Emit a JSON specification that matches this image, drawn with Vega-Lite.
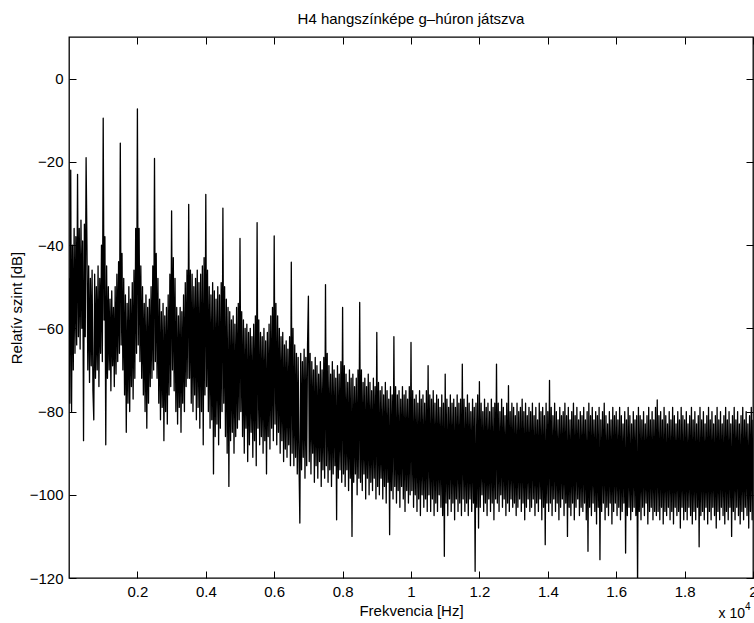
{
"$schema":"https://vega.github.io/schema/vega-lite/v6.json",
"width":684,"height":541,
"autosize":{"type":"none"},
"padding":{"left":69,"top":37,"right":1,"bottom":45},
"background":"white",
"title":{"text":"H4 hangszínképe g–húron játszva","font":"Liberation Sans","fontSize":15,"fontWeight":"normal","color":"black","offset":10,"anchor":"middle"},
"config":{
"view":{"stroke":"black","strokeWidth":1.3},
"axis":{"domain":false,"grid":false,"tickColor":"black","tickSize":-7,"tickWidth":1,"labelFont":"Liberation Sans","labelFontSize":15,"labelColor":"black","titleFont":"Liberation Sans","titleFontSize":15,"titleFontWeight":"normal","titleColor":"black"}
},
"datasets":{"spec":[
{"f":0,"d":-48},{"f":25,"d":-78},{"f":50,"d":-22},{"f":75,"d":-80},{"f":100,"d":-40},{"f":125,"d":-70},{"f":150,"d":-36},{"f":175,"d":-66},{"f":200,"d":-38},{"f":225,"d":-64},{"f":250,"d":-23},{"f":275,"d":-62},{"f":300,"d":-36},{"f":325,"d":-65},{"f":350,"d":-34},{"f":375,"d":-60},{"f":400,"d":-39},{"f":425,"d":-87},{"f":450,"d":-35},{"f":475,"d":-62},
{"f":500,"d":-19},{"f":525,"d":-40},{"f":550,"d":-70},{"f":575,"d":-45},{"f":600,"d":-73},{"f":625,"d":-48},{"f":650,"d":-69},{"f":675,"d":-46},{"f":700,"d":-75},{"f":725,"d":-82},{"f":750,"d":-47},{"f":775,"d":-72},{"f":800,"d":-50},{"f":825,"d":-70},{"f":850,"d":-45},{"f":875,"d":-74},{"f":900,"d":-48},{"f":925,"d":-66},{"f":950,"d":-40},{"f":975,"d":-68},
{"f":1000,"d":-9.5},{"f":1025,"d":-58},{"f":1050,"d":-38},{"f":1075,"d":-88},{"f":1100,"d":-45},{"f":1125,"d":-72},{"f":1150,"d":-50},{"f":1175,"d":-70},{"f":1200,"d":-53},{"f":1225,"d":-75},{"f":1250,"d":-51},{"f":1275,"d":-69},{"f":1300,"d":-55},{"f":1325,"d":-74},{"f":1350,"d":-50},{"f":1375,"d":-71},{"f":1400,"d":-47},{"f":1425,"d":-68},{"f":1450,"d":-44},{"f":1475,"d":-66},
{"f":1500,"d":-15.5},{"f":1525,"d":-64},{"f":1550,"d":-42},{"f":1575,"d":-70},{"f":1600,"d":-48},{"f":1625,"d":-76},{"f":1650,"d":-52},{"f":1675,"d":-85},{"f":1700,"d":-54},{"f":1725,"d":-78},{"f":1750,"d":-50},{"f":1775,"d":-80},{"f":1800,"d":-53},{"f":1825,"d":-74},{"f":1850,"d":-49},{"f":1875,"d":-77},{"f":1900,"d":-46},{"f":1925,"d":-72},{"f":1950,"d":-36},{"f":1975,"d":-66},
{"f":2000,"d":-7.3},{"f":2025,"d":-64},{"f":2050,"d":-36},{"f":2075,"d":-68},{"f":2100,"d":-45},{"f":2125,"d":-72},{"f":2150,"d":-50},{"f":2175,"d":-76},{"f":2200,"d":-54},{"f":2225,"d":-80},{"f":2250,"d":-52},{"f":2275,"d":-84},{"f":2300,"d":-55},{"f":2325,"d":-78},{"f":2350,"d":-53},{"f":2375,"d":-74},{"f":2400,"d":-50},{"f":2425,"d":-72},{"f":2450,"d":-45},{"f":2475,"d":-70},
{"f":2500,"d":-19.2},{"f":2525,"d":-68},{"f":2550,"d":-42},{"f":2575,"d":-72},{"f":2600,"d":-48},{"f":2625,"d":-78},{"f":2650,"d":-53},{"f":2675,"d":-82},{"f":2700,"d":-56},{"f":2725,"d":-79},{"f":2750,"d":-54},{"f":2775,"d":-87},{"f":2800,"d":-57},{"f":2825,"d":-80},{"f":2850,"d":-55},{"f":2875,"d":-83},{"f":2900,"d":-52},{"f":2925,"d":-76},{"f":2950,"d":-47},{"f":2975,"d":-74},
{"f":3000,"d":-31.8},{"f":3025,"d":-70},{"f":3050,"d":-43},{"f":3075,"d":-75},{"f":3100,"d":-48},{"f":3125,"d":-80},{"f":3150,"d":-55},{"f":3175,"d":-83},{"f":3200,"d":-57},{"f":3225,"d":-79},{"f":3250,"d":-55},{"f":3275,"d":-85},{"f":3300,"d":-56},{"f":3325,"d":-78},{"f":3350,"d":-52},{"f":3375,"d":-80},{"f":3400,"d":-49},{"f":3425,"d":-74},{"f":3450,"d":-46},{"f":3475,"d":-72},
{"f":3500,"d":-30.2},{"f":3525,"d":-72},{"f":3550,"d":-46},{"f":3575,"d":-78},{"f":3600,"d":-47},{"f":3625,"d":-80},{"f":3650,"d":-50},{"f":3675,"d":-76},{"f":3700,"d":-48},{"f":3725,"d":-82},{"f":3750,"d":-46},{"f":3775,"d":-79},{"f":3800,"d":-49},{"f":3825,"d":-84},{"f":3850,"d":-47},{"f":3875,"d":-80},{"f":3900,"d":-45},{"f":3925,"d":-88},{"f":3950,"d":-43},{"f":3975,"d":-76},
{"f":4000,"d":-27.8},{"f":4025,"d":-74},{"f":4050,"d":-46},{"f":4075,"d":-80},{"f":4100,"d":-50},{"f":4125,"d":-84},{"f":4150,"d":-52},{"f":4175,"d":-82},{"f":4200,"d":-49},{"f":4225,"d":-95},{"f":4250,"d":-51},{"f":4275,"d":-86},{"f":4300,"d":-53},{"f":4325,"d":-83},{"f":4350,"d":-50},{"f":4375,"d":-88},{"f":4400,"d":-52},{"f":4425,"d":-84},{"f":4450,"d":-49},{"f":4475,"d":-80},
{"f":4500,"d":-31.1},{"f":4525,"d":-78},{"f":4550,"d":-50},{"f":4575,"d":-86},{"f":4600,"d":-53},{"f":4625,"d":-90},{"f":4650,"d":-55},{"f":4675,"d":-98},{"f":4700,"d":-56},{"f":4725,"d":-87},{"f":4750,"d":-58},{"f":4775,"d":-85},{"f":4800,"d":-57},{"f":4825,"d":-90},{"f":4850,"d":-59},{"f":4875,"d":-86},{"f":4900,"d":-55},{"f":4925,"d":-84},{"f":4950,"d":-54},{"f":4975,"d":-82},
{"f":5000,"d":-38.4},{"f":5025,"d":-80},{"f":5050,"d":-56},{"f":5075,"d":-86},{"f":5100,"d":-58},{"f":5125,"d":-90},{"f":5150,"d":-60},{"f":5175,"d":-84},{"f":5200,"d":-59},{"f":5225,"d":-92},{"f":5250,"d":-61},{"f":5275,"d":-88},{"f":5300,"d":-60},{"f":5325,"d":-85},{"f":5350,"d":-62},{"f":5375,"d":-91},{"f":5400,"d":-59},{"f":5425,"d":-87},{"f":5450,"d":-57},{"f":5475,"d":-93},
{"f":5500,"d":-34.6},{"f":5525,"d":-84},{"f":5550,"d":-58},{"f":5575,"d":-88},{"f":5600,"d":-61},{"f":5625,"d":-86},{"f":5650,"d":-62},{"f":5675,"d":-90},{"f":5700,"d":-60},{"f":5725,"d":-87},{"f":5750,"d":-63},{"f":5775,"d":-95},{"f":5800,"d":-61},{"f":5825,"d":-86},{"f":5850,"d":-59},{"f":5875,"d":-89},{"f":5900,"d":-57},{"f":5925,"d":-84},{"f":5950,"d":-55},{"f":5975,"d":-87},
{"f":6000,"d":-37.8},{"f":6025,"d":-83},{"f":6050,"d":-54},{"f":6075,"d":-88},{"f":6100,"d":-57},{"f":6125,"d":-85},{"f":6150,"d":-60},{"f":6175,"d":-90},{"f":6200,"d":-62},{"f":6225,"d":-87},{"f":6250,"d":-61},{"f":6275,"d":-92},{"f":6300,"d":-64},{"f":6325,"d":-89},{"f":6350,"d":-63},{"f":6375,"d":-91},{"f":6400,"d":-65},{"f":6425,"d":-88},{"f":6450,"d":-62},{"f":6475,"d":-93},
{"f":6500,"d":-44.1},{"f":6525,"d":-90},{"f":6550,"d":-60},{"f":6575,"d":-93},{"f":6600,"d":-64},{"f":6625,"d":-91},{"f":6650,"d":-66},{"f":6675,"d":-95},{"f":6700,"d":-67},{"f":6725,"d":-92},{"f":6750,"d":-106.8},{"f":6775,"d":-66},{"f":6800,"d":-94},{"f":6825,"d":-68},{"f":6850,"d":-91},{"f":6875,"d":-65},{"f":6900,"d":-96},{"f":6925,"d":-67},{"f":6950,"d":-93},{"f":6975,"d":-64},
{"f":7000,"d":-52.3},{"f":7025,"d":-92},{"f":7050,"d":-66},{"f":7075,"d":-95},{"f":7100,"d":-68},{"f":7125,"d":-90},{"f":7150,"d":-70},{"f":7175,"d":-97},{"f":7200,"d":-67},{"f":7225,"d":-93},{"f":7250,"d":-69},{"f":7275,"d":-96},{"f":7300,"d":-71},{"f":7325,"d":-92},{"f":7350,"d":-68},{"f":7375,"d":-98},{"f":7400,"d":-70},{"f":7425,"d":-94},{"f":7450,"d":-67},{"f":7475,"d":-96},
{"f":7500,"d":-49.5},{"f":7525,"d":-93},{"f":7550,"d":-66},{"f":7575,"d":-97},{"f":7600,"d":-69},{"f":7625,"d":-94},{"f":7650,"d":-71},{"f":7675,"d":-98},{"f":7700,"d":-68},{"f":7725,"d":-95},{"f":7750,"d":-70},{"f":7775,"d":-93},{"f":7800,"d":-72},{"f":7825,"d":-106},{"f":7850,"d":-69},{"f":7875,"d":-96},{"f":7900,"d":-71},{"f":7925,"d":-94},{"f":7950,"d":-68},{"f":7975,"d":-97},
{"f":8000,"d":-55},{"f":8025,"d":-95},{"f":8050,"d":-69},{"f":8075,"d":-98},{"f":8100,"d":-71},{"f":8125,"d":-94},{"f":8150,"d":-73},{"f":8175,"d":-99},{"f":8200,"d":-70},{"f":8225,"d":-96},{"f":8250,"d":-72},{"f":8275,"d":-110},{"f":8300,"d":-71},{"f":8325,"d":-97},{"f":8350,"d":-74},{"f":8375,"d":-95},{"f":8400,"d":-72},{"f":8425,"d":-100},{"f":8450,"d":-70},{"f":8475,"d":-96},
{"f":8500,"d":-53.8},{"f":8525,"d":-97},{"f":8550,"d":-70},{"f":8575,"d":-99},{"f":8600,"d":-73},{"f":8625,"d":-95},{"f":8650,"d":-72},{"f":8675,"d":-101},{"f":8700,"d":-74},{"f":8725,"d":-96},{"f":8750,"d":-71},{"f":8775,"d":-100},{"f":8800,"d":-73},{"f":8825,"d":-97},{"f":8850,"d":-75},{"f":8875,"d":-99},{"f":8900,"d":-72},{"f":8925,"d":-96},{"f":8950,"d":-74},{"f":8975,"d":-101},
{"f":9000,"d":-61},{"f":9025,"d":-98},{"f":9050,"d":-73},{"f":9075,"d":-100},{"f":9100,"d":-75},{"f":9125,"d":-96},{"f":9150,"d":-74},{"f":9175,"d":-101},{"f":9200,"d":-76},{"f":9225,"d":-98},{"f":9250,"d":-73},{"f":9275,"d":-102},{"f":9300,"d":-75},{"f":9325,"d":-97},{"f":9350,"d":-77},{"f":9375,"d":-109.6},{"f":9400,"d":-74},{"f":9425,"d":-99},{"f":9450,"d":-76},{"f":9475,"d":-101},
{"f":9500,"d":-62},{"f":9525,"d":-98},{"f":9550,"d":-74},{"f":9575,"d":-102},{"f":9600,"d":-76},{"f":9625,"d":-99},{"f":9650,"d":-75},{"f":9675,"d":-103},{"f":9700,"d":-77},{"f":9725,"d":-98},{"f":9750,"d":-74},{"f":9775,"d":-101},{"f":9800,"d":-76},{"f":9825,"d":-104},{"f":9850,"d":-75},{"f":9875,"d":-99},{"f":9900,"d":-77},{"f":9925,"d":-102},{"f":9950,"d":-74},{"f":9975,"d":-100},
{"f":10000,"d":-63.4},{"f":10025,"d":-99},{"f":10050,"d":-75},{"f":10075,"d":-103},{"f":10100,"d":-77},{"f":10125,"d":-100},{"f":10150,"d":-76},{"f":10175,"d":-104},{"f":10200,"d":-78},{"f":10225,"d":-101},{"f":10250,"d":-75},{"f":10275,"d":-105},{"f":10300,"d":-77},{"f":10325,"d":-100},{"f":10350,"d":-76},{"f":10375,"d":-103},{"f":10400,"d":-78},{"f":10425,"d":-101},{"f":10450,"d":-75},{"f":10475,"d":-104},
{"f":10500,"d":-69},{"f":10525,"d":-100},{"f":10550,"d":-76},{"f":10575,"d":-104},{"f":10600,"d":-77},{"f":10625,"d":-101},{"f":10650,"d":-75},{"f":10675,"d":-105},{"f":10700,"d":-78},{"f":10725,"d":-102},{"f":10750,"d":-76},{"f":10775,"d":-104},{"f":10800,"d":-77},{"f":10825,"d":-100},{"f":10850,"d":-79},{"f":10875,"d":-103},{"f":10900,"d":-76},{"f":10925,"d":-105},{"f":10950,"d":-78},{"f":10975,"d":-114.8},
{"f":11000,"d":-71},{"f":11025,"d":-102},{"f":11050,"d":-77},{"f":11075,"d":-105},{"f":11100,"d":-79},{"f":11125,"d":-101},{"f":11150,"d":-76},{"f":11175,"d":-104},{"f":11200,"d":-78},{"f":11225,"d":-102},{"f":11250,"d":-77},{"f":11275,"d":-106},{"f":11300,"d":-79},{"f":11325,"d":-101},{"f":11350,"d":-76},{"f":11375,"d":-104},{"f":11400,"d":-78},{"f":11425,"d":-102},{"f":11450,"d":-77},{"f":11475,"d":-105},
{"f":11500,"d":-68.6},{"f":11525,"d":-101},{"f":11550,"d":-77},{"f":11575,"d":-104},{"f":11600,"d":-79},{"f":11625,"d":-102},{"f":11650,"d":-76},{"f":11675,"d":-105},{"f":11700,"d":-78},{"f":11725,"d":-101},{"f":11750,"d":-80},{"f":11775,"d":-104},{"f":11800,"d":-77},{"f":11825,"d":-102},{"f":11850,"d":-79},{"f":11875,"d":-118.4},{"f":11900,"d":-78},{"f":11925,"d":-103},{"f":11950,"d":-76},{"f":11975,"d":-108},
{"f":12000,"d":-72.8},{"f":12025,"d":-103},{"f":12050,"d":-78},{"f":12075,"d":-100},{"f":12100,"d":-80},{"f":12125,"d":-104},{"f":12150,"d":-77},{"f":12175,"d":-102},{"f":12200,"d":-79},{"f":12225,"d":-105},{"f":12250,"d":-78},{"f":12275,"d":-101},{"f":12300,"d":-80},{"f":12325,"d":-104},{"f":12350,"d":-77},{"f":12375,"d":-102},{"f":12400,"d":-79},{"f":12425,"d":-106},{"f":12450,"d":-78},{"f":12475,"d":-101},
{"f":12500,"d":-68.6},{"f":12525,"d":-102},{"f":12550,"d":-78},{"f":12575,"d":-104},{"f":12600,"d":-80},{"f":12625,"d":-100},{"f":12650,"d":-77},{"f":12675,"d":-103},{"f":12700,"d":-79},{"f":12725,"d":-101},{"f":12750,"d":-81},{"f":12775,"d":-105},{"f":12800,"d":-78},{"f":12825,"d":-102},{"f":12850,"d":-73.8},{"f":12875,"d":-104},{"f":12900,"d":-80},{"f":12925,"d":-101},{"f":12950,"d":-78},{"f":12975,"d":-103},
{"f":13000,"d":-79},{"f":13025,"d":-102},{"f":13050,"d":-81},{"f":13075,"d":-105},{"f":13100,"d":-78},{"f":13125,"d":-103},{"f":13150,"d":-80},{"f":13175,"d":-101},{"f":13200,"d":-79},{"f":13225,"d":-104},{"f":13250,"d":-77},{"f":13275,"d":-102},{"f":13300,"d":-80},{"f":13325,"d":-106},{"f":13350,"d":-78},{"f":13375,"d":-103},{"f":13400,"d":-81},{"f":13425,"d":-101},{"f":13450,"d":-79},{"f":13475,"d":-104},
{"f":13500,"d":-80},{"f":13525,"d":-103},{"f":13550,"d":-78},{"f":13575,"d":-101},{"f":13600,"d":-81},{"f":13625,"d":-105},{"f":13650,"d":-79},{"f":13675,"d":-102},{"f":13700,"d":-82},{"f":13725,"d":-104},{"f":13750,"d":-78},{"f":13775,"d":-101},{"f":13800,"d":-80},{"f":13825,"d":-106},{"f":13850,"d":-79},{"f":13875,"d":-103},{"f":13900,"d":-81},{"f":13925,"d":-112},{"f":13950,"d":-78},{"f":13975,"d":-102},
{"f":14000,"d":-80},{"f":14025,"d":-104},{"f":14050,"d":-72.5},{"f":14075,"d":-102},{"f":14100,"d":-79},{"f":14125,"d":-105},{"f":14150,"d":-81},{"f":14175,"d":-101},{"f":14200,"d":-78},{"f":14225,"d":-104},{"f":14250,"d":-80},{"f":14275,"d":-102},{"f":14300,"d":-82},{"f":14325,"d":-106},{"f":14350,"d":-79},{"f":14375,"d":-103},{"f":14400,"d":-81},{"f":14425,"d":-101},{"f":14450,"d":-80},{"f":14475,"d":-105},
{"f":14500,"d":-78},{"f":14525,"d":-102},{"f":14550,"d":-81},{"f":14575,"d":-110},{"f":14600,"d":-79},{"f":14625,"d":-103},{"f":14650,"d":-82},{"f":14675,"d":-105},{"f":14700,"d":-80},{"f":14725,"d":-102},{"f":14750,"d":-78},{"f":14775,"d":-106},{"f":14800,"d":-81},{"f":14825,"d":-103},{"f":14850,"d":-79},{"f":14875,"d":-101},{"f":14900,"d":-82},{"f":14925,"d":-105},{"f":14950,"d":-80},{"f":14975,"d":-103},
{"f":15000,"d":-81},{"f":15025,"d":-104},{"f":15050,"d":-79},{"f":15075,"d":-102},{"f":15100,"d":-82},{"f":15125,"d":-106},{"f":15150,"d":-80},{"f":15175,"d":-113.6},{"f":15200,"d":-78},{"f":15225,"d":-103},{"f":15250,"d":-81},{"f":15275,"d":-105},{"f":15300,"d":-79},{"f":15325,"d":-102},{"f":15350,"d":-82},{"f":15375,"d":-104},{"f":15400,"d":-80},{"f":15425,"d":-107},{"f":15450,"d":-81},{"f":15475,"d":-103},
{"f":15500,"d":-79},{"f":15525,"d":-115.6},{"f":15550,"d":-82},{"f":15575,"d":-104},{"f":15600,"d":-80},{"f":15625,"d":-102},{"f":15650,"d":-78},{"f":15675,"d":-106},{"f":15700,"d":-81},{"f":15725,"d":-103},{"f":15750,"d":-83},{"f":15775,"d":-105},{"f":15800,"d":-80},{"f":15825,"d":-102},{"f":15850,"d":-82},{"f":15875,"d":-107},{"f":15900,"d":-79},{"f":15925,"d":-104},{"f":15950,"d":-81},{"f":15975,"d":-102},
{"f":16000,"d":-80},{"f":16025,"d":-105},{"f":16050,"d":-82},{"f":16075,"d":-103},{"f":16100,"d":-79},{"f":16125,"d":-106},{"f":16150,"d":-81},{"f":16175,"d":-104},{"f":16200,"d":-83},{"f":16225,"d":-102},{"f":16250,"d":-80},{"f":16275,"d":-114},{"f":16300,"d":-82},{"f":16325,"d":-105},{"f":16350,"d":-79},{"f":16375,"d":-103},{"f":16400,"d":-81},{"f":16425,"d":-106},{"f":16450,"d":-83},{"f":16475,"d":-104},
{"f":16500,"d":-80},{"f":16525,"d":-103},{"f":16550,"d":-82},{"f":16575,"d":-105},{"f":16600,"d":-81},{"f":16625,"d":-122},{"f":16650,"d":-79},{"f":16675,"d":-104},{"f":16700,"d":-81},{"f":16725,"d":-106},{"f":16750,"d":-82},{"f":16775,"d":-103},{"f":16800,"d":-80},{"f":16825,"d":-105},{"f":16850,"d":-83},{"f":16875,"d":-102},{"f":16900,"d":-81},{"f":16925,"d":-107},{"f":16950,"d":-79},{"f":16975,"d":-104},
{"f":17000,"d":-82},{"f":17025,"d":-103},{"f":17050,"d":-80},{"f":17075,"d":-106},{"f":17100,"d":-82},{"f":17125,"d":-104},{"f":17150,"d":-79},{"f":17175,"d":-105},{"f":17200,"d":-77.2},{"f":17225,"d":-104},{"f":17250,"d":-81},{"f":17275,"d":-106},{"f":17300,"d":-80},{"f":17325,"d":-103},{"f":17350,"d":-82},{"f":17375,"d":-107},{"f":17400,"d":-79},{"f":17425,"d":-104},{"f":17450,"d":-81},{"f":17475,"d":-105},
{"f":17500,"d":-83},{"f":17525,"d":-103},{"f":17550,"d":-80},{"f":17575,"d":-106},{"f":17600,"d":-82},{"f":17625,"d":-104},{"f":17650,"d":-79},{"f":17675,"d":-107},{"f":17700,"d":-81},{"f":17725,"d":-103},{"f":17750,"d":-83},{"f":17775,"d":-105},{"f":17800,"d":-80},{"f":17825,"d":-104},{"f":17850,"d":-82},{"f":17875,"d":-108},{"f":17900,"d":-79},{"f":17925,"d":-103},{"f":17950,"d":-81},{"f":17975,"d":-106},
{"f":18000,"d":-82},{"f":18025,"d":-104},{"f":18050,"d":-80},{"f":18075,"d":-106},{"f":18100,"d":-83},{"f":18125,"d":-103},{"f":18150,"d":-81},{"f":18175,"d":-105},{"f":18200,"d":-79},{"f":18225,"d":-107},{"f":18250,"d":-82},{"f":18275,"d":-104},{"f":18300,"d":-80},{"f":18325,"d":-106},{"f":18350,"d":-83},{"f":18375,"d":-103},{"f":18400,"d":-81},{"f":18425,"d":-112.5},{"f":18450,"d":-79},{"f":18475,"d":-105},
{"f":18500,"d":-82},{"f":18525,"d":-104},{"f":18550,"d":-80},{"f":18575,"d":-106},{"f":18600,"d":-83},{"f":18625,"d":-103},{"f":18650,"d":-81},{"f":18675,"d":-107},{"f":18700,"d":-79},{"f":18725,"d":-104},{"f":18750,"d":-82},{"f":18775,"d":-106},{"f":18800,"d":-80},{"f":18825,"d":-103},{"f":18850,"d":-83},{"f":18875,"d":-105},{"f":18900,"d":-81},{"f":18925,"d":-108},{"f":18950,"d":-79},{"f":18975,"d":-104},
{"f":19000,"d":-82},{"f":19025,"d":-106},{"f":19050,"d":-80},{"f":19075,"d":-103},{"f":19100,"d":-83},{"f":19125,"d":-105},{"f":19150,"d":-81},{"f":19175,"d":-107},{"f":19200,"d":-79},{"f":19225,"d":-104},{"f":19250,"d":-82},{"f":19275,"d":-106},{"f":19300,"d":-80},{"f":19325,"d":-103},{"f":19350,"d":-83},{"f":19375,"d":-110},{"f":19400,"d":-81},{"f":19425,"d":-104},{"f":19450,"d":-79},{"f":19475,"d":-106},
{"f":19500,"d":-82},{"f":19525,"d":-103},{"f":19550,"d":-80},{"f":19575,"d":-105},{"f":19600,"d":-83},{"f":19625,"d":-107},{"f":19650,"d":-81},{"f":19675,"d":-104},{"f":19700,"d":-79},{"f":19725,"d":-106},{"f":19750,"d":-82},{"f":19775,"d":-103},{"f":19800,"d":-80},{"f":19825,"d":-105},{"f":19850,"d":-83},{"f":19875,"d":-108},{"f":19900,"d":-81},{"f":19925,"d":-104},{"f":19950,"d":-79},{"f":19975,"d":-106},{"f":20000,"d":-82}
]},
"layer":[
{"data":{"name":"spec"},
"mark":{"type":"line","color":"black","strokeWidth":1.3,"strokeJoin":"round","clip":true},
"encoding":{
"x":{"field":"f","type":"quantitative","scale":{"domain":[0,20000],"nice":false,"zero":false},
"axis":{"values":[2000,4000,6000,8000,10000,12000,14000,16000,18000,20000],"labelExpr":"format(datum.value/10000,'~g')","title":"Frekvencia [Hz]","labelPadding":13,"titlePadding":4,"labelFlush":false,"labelOverlap":false}},
"y":{"field":"d","type":"quantitative","scale":{"domain":[-120,10],"nice":false,"zero":false},
"axis":{"values":[-120,-100,-80,-60,-40,-20,0],"title":"Relatív szint [dB]","labelPadding":13,"titlePadding":5}}
}},
{"data":{"values":[{"f":0,"d":0}]},
"mark":{"type":"point","opacity":0},
"encoding":{
"x":{"field":"f","type":"quantitative","axis":{"orient":"top","values":[2000,4000,6000,8000,10000,12000,14000,16000,18000,20000],"labels":false,"title":null}},
"y":{"field":"d","type":"quantitative","axis":{"orient":"right","values":[-120,-100,-80,-60,-40,-20,0],"labels":false,"title":null}}
}},
{"data":{"values":[{"t":"x 10"}]},
"mark":{"type":"text","align":"right","baseline":"alphabetic","dx":-8,"dy":40,"font":"Liberation Sans","fontSize":14,"color":"black"},
"encoding":{"x":{"datum":20000,"axis":null},"y":{"datum":-120,"axis":null},"text":{"field":"t"}}},
{"data":{"values":[{"t":"4"}]},
"mark":{"type":"text","align":"left","baseline":"alphabetic","dx":-8,"dy":32,"font":"Liberation Sans","fontSize":10,"color":"black"},
"encoding":{"x":{"datum":20000,"axis":null},"y":{"datum":-120,"axis":null},"text":{"field":"t"}}}
],
"resolve":{"axis":{"x":"independent","y":"independent"}}
}
